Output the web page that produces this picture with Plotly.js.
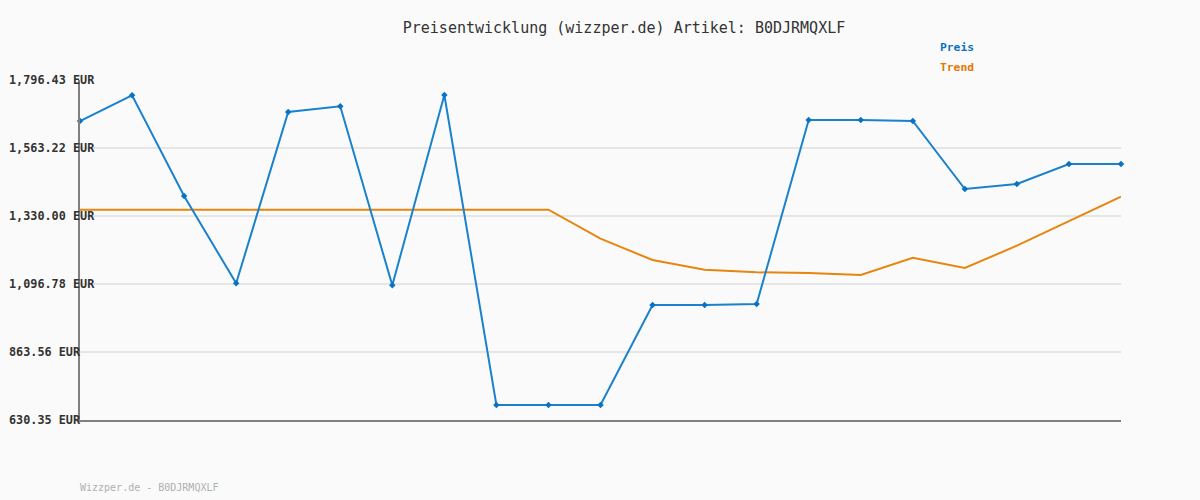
<!DOCTYPE html>
<html>
<head>
<meta charset="utf-8">
<script src="https://cdn.plot.ly/plotly-3.0.1.min.js"></script>
<style>html,body{margin:0;padding:0;background:#fafafa;}#chart{width:1200px;height:500px;}</style>
</head>
<body>
<div id="chart"></div>
<script>
const titleText = "Preisentwicklung (wizzper.de) Artikel: B0DJRMQXLF";
const footerText = "Wizzper.de - B0DJRMQXLF";
const seriesNames = ["Preis", "Trend"];
const xIndex = [0,1,2,3,4,5,6,7,8,9,10,11,12,13,14,15,16,17,18,19,20];
const preis = [1655.8,1744.0,1398.6,1099.2,1686.7,1706.2,1092.3,1745.0,681.8,681.8,681.8,1024.8,1024.8,1028.2,1659.2,1659.2,1655.8,1422.6,1439.8,1508.3,1508.3];
const trend = [1351.6,1351.6,1351.6,1351.6,1351.6,1351.6,1351.6,1351.6,1351.6,1351.6,1252.2,1179.1,1145.8,1136.9,1134.5,1127.6,1187.0,1151.7,1228.1,1312.8,1396.2];
const tickVals = [630.35,863.56,1096.78,1330.00,1563.22,1796.43];
const tickLabels = ["630.35 EUR","863.56 EUR","1,096.78 EUR","1,330.00 EUR","1,563.22 EUR","1,796.43 EUR"];

const mono = "DejaVu Sans Mono, monospace";
const blue = "#1a82cc", blueText = "#0a72c2";
const orange = "#e6860f", orangeText = "#e07800";

const traces = [
  {x: xIndex, y: trend, name: seriesNames[1], type: "scatter", mode: "lines",
   line: {color: orange, width: 2}, cliponaxis: false, hoverinfo: "skip"},
  {x: xIndex, y: preis, name: seriesNames[0], type: "scatter", mode: "lines+markers",
   line: {color: blue, width: 2}, marker: {symbol: "diamond", size: 5, color: "#0a72c2"},
   cliponaxis: false, hoverinfo: "skip"}
];

const annotations = [];
tickVals.forEach((v, i) => {
  annotations.push({xref: "paper", yref: "y", x: 0, y: v, xshift: -71.5, xanchor: "left", yanchor: "middle",
    text: "<b>" + tickLabels[i] + "</b>", showarrow: false, borderpad: 0, borderwidth: 0,
    font: {family: mono, size: 11.8, color: "#333"}});
});
annotations.push({xref: "paper", yref: "paper", x: 0.826, y: 1.097, xanchor: "left", yanchor: "middle",
  text: "<b>" + seriesNames[0] + "</b>", showarrow: false, borderpad: 0, borderwidth: 0,
  font: {family: mono, size: 11.3, color: blueText}});
annotations.push({xref: "paper", yref: "paper", x: 0.826, y: 1.038, xanchor: "left", yanchor: "middle",
  text: "<b>" + seriesNames[1] + "</b>", showarrow: false, borderpad: 0, borderwidth: 0,
  font: {family: mono, size: 11.3, color: orangeText}});
annotations.push({xref: "paper", yref: "paper", x: 0, y: 0, yshift: -67, xanchor: "left", yanchor: "middle",
  text: footerText, showarrow: false, borderpad: 0, borderwidth: 0,
  font: {family: mono, size: 10, color: "#b0b0b0"}});

const layout = {
  width: 1200, height: 500,
  paper_bgcolor: "#fafafa", plot_bgcolor: "#fafafa",
  margin: {l: 80, r: 79, t: 80, b: 80},
  showlegend: false,
  title: {text: titleText, x: 0.52, xref: "container", xanchor: "center", y: 0.944, yref: "container", yanchor: "middle",
    font: {family: mono, size: 15, color: "#333"}},
  xaxis: {range: [0, 20], showgrid: false, zeroline: false, showticklabels: false, ticks: "",
    showline: true, linecolor: "#808080", linewidth: 2, fixedrange: true},
  yaxis: {range: [630.35, 1796.43], tickvals: tickVals, showticklabels: false, ticks: "",
    showgrid: true, gridcolor: "#e6e6e6", gridwidth: 2, zeroline: false,
    showline: true, linecolor: "#808080", linewidth: 2, fixedrange: true},
  annotations: annotations
};

Plotly.newPlot("chart", traces, layout, {displayModeBar: false, staticPlot: true});
</script>
</body>
</html>
